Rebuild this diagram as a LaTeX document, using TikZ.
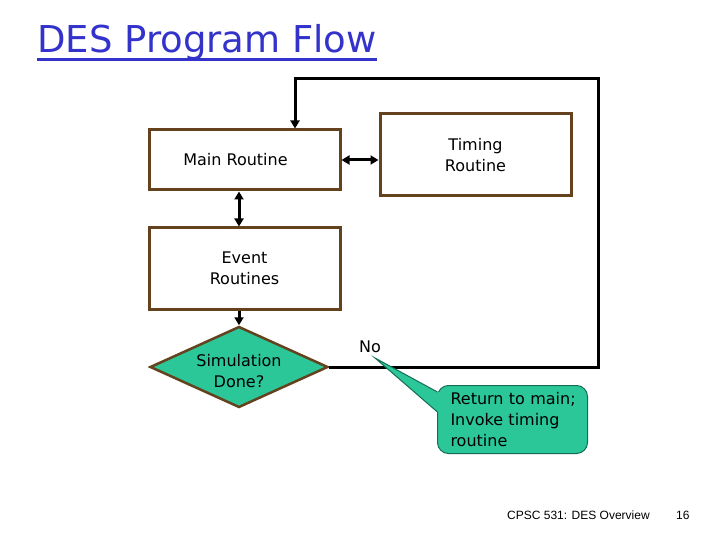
\documentclass[tikz,border=0pt]{standalone}
\usepackage{fontspec}
\setmainfont{DejaVu Sans}
\newfontfamily\footfont{Liberation Sans}
\usetikzlibrary{arrows.meta,shapes.geometric,calc}
\definecolor{boxbrown}{RGB}{100,66,30}
\definecolor{tealfill}{RGB}{43,199,153}
\definecolor{tealline}{RGB}{20,110,85}
\definecolor{titleblue}{RGB}{51,51,204}
\begin{document}
\begin{tikzpicture}[x=1pt,y=-1pt,
  stepbox/.style={draw=boxbrown,line width=3pt,fill=white,inner sep=0pt,align=center,
    font=\fontsize{16}{21}\selectfont},
  conn/.style={line width=3pt,draw=black,line join=miter},
  onetip/.style={-{Triangle[length=8pt,width=9pt]}},
  twotip/.style={{Triangle[length=8pt,width=9pt]}-{Triangle[length=8pt,width=9pt]}},
  bodytext/.style={font=\fontsize{16}{21}\selectfont}]
\useasboundingbox[fill=white] (0,0) rectangle (720,540);

% title
\node[anchor=base west,inner sep=0pt,font=\fontsize{37}{40}\selectfont,text=titleblue] (title) at (37,53) {DES Program Flow};
\draw[titleblue,line width=3pt] ([yshift=-7pt]title.base west) -- ([yshift=-7pt]title.base east);

% boxes
\node[stepbox,minimum width=191pt,minimum height=60pt] (main) at (244.5,160) {Main Routine\hspace{18pt}};
\node[stepbox,minimum width=191pt,minimum height=82pt] (timing) at (475.5,155) {Timing\\Routine};
\node[stepbox,minimum width=191pt,minimum height=81pt] (event) at (244.5,268.5) {Event\\Routines};
\node[diamond,aspect=2.2,draw=boxbrown,line width=2.5pt,fill=tealfill,inner sep=0pt,
  minimum width=178pt,minimum height=81pt,bodytext] (diam) at (239,367)
  {\raisebox{-10.5pt}[0pt][0pt]{\begin{tabular}{@{}c@{}}Simulation\\Done?\end{tabular}}};

% connectors
\draw[conn,twotip] (main.east) -- (main.east -| timing.west);
\draw[conn,twotip] (main.south -| diam.north) -- (event.north -| diam.north);
\draw[conn,onetip] (event.south -| diam.north) -- (diam.north);
\coordinate (tr) at (598,79);
\draw[conn,onetip] (diam.east) -| (tr) -| ([xshift=50.5pt]main.north);

\node[bodytext] (no) at (370,347) {No};

% callout
\node[draw=tealline,line width=1pt,fill=tealfill,rounded corners=11pt,anchor=north west,
  minimum width=150pt,minimum height=68pt,text width=136pt,inner xsep=7pt,inner ysep=0pt,
  align=left,bodytext] (call) at (437,385) {\hspace*{6pt}Return to main;\\\hspace*{6pt}Invoke timing\\\hspace*{6pt}routine};
\coordinate (ptip) at (375,358);
\fill[tealfill] (ptip) -- ($(call.north west)+(0,7)$) -- ($(call.north west)+(6,7)$)
  -- ($(call.north west)+(6,27)$) -- ($(call.north west)+(0,27)$) -- cycle;
\draw[tealline,line width=1pt,line join=miter] ($(call.north west)+(0.5,7)$) -- (ptip) -- ($(call.north west)+(0.5,27)$);

% footer
\node[anchor=base west,inner sep=0pt,font=\footfont\fontsize{12}{14}\selectfont] (foot) at (507,519) {CPSC 531: DES Overview};
\node[anchor=base west,inner sep=0pt,font=\footfont\fontsize{12}{14}\selectfont] (pg) at (676,519) {16};
\end{tikzpicture}
\end{document}
